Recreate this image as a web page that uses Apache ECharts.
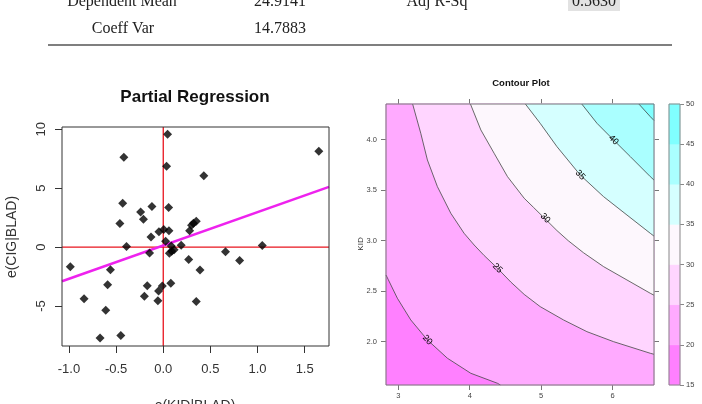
<!DOCTYPE html>
<html lang="en">
<head>
<meta charset="UTF-8" />
<title>Partial Regression / Contour Plot</title>
<script src="https://cdn.jsdelivr.net/npm/echarts@6/dist/echarts.min.js"></script>
<style>
  html, body { margin: 0; padding: 0; background: #fff; }
  #main { width: 702px; height: 404px; }
</style>
</head>
<body>
<div id="main"></div>
<script>
// partial regression residuals: e(KID|BLAD) and e(CIG|BLAD)
var residX = [0.046, 1.65, -0.418, 0.035, 0.43, -0.43, -0.12, 0.057, -0.24, -0.21, -0.46,
  0.35, 0.32, 0.30, 0.28, 0.005, -0.046, 0.06, -0.13, 0.025, -0.39, 0.19, 1.05,
  0.085, 0.115, 0.09, 0.065, -0.145, 0.66, 0.81, 0.27, -0.986, -0.56, 0.39,
  -0.59, -0.17, 0.08, -0.01, -0.05, -0.84, -0.20, 0.35, -0.057, -0.61, -0.67, -0.45];
var residY = [9.58, 8.14, 7.64, 6.86, 6.07, 3.73, 3.45, 3.36, 2.99, 2.37, 2.0,
  2.2, 2.03, 1.86, 1.38, 1.50, 1.30, 1.38, 0.86, 0.5, 0.06, 0.16, 0.14,
  0.1, -0.22, -0.35, -0.52, -0.5, -0.4, -1.13, -1.05, -1.67, -1.92, -1.95,
  -3.19, -3.28, -3.08, -3.31, -3.73, -4.38, -4.18, -4.63, -4.55, -5.37, -7.71, -7.51];
// least squares line, read at the two edges of the box
var fitX = [-1.074, 1.758];
var fitY = [-2.9, 5.12];
// red reference lines (abline v = 0, h = 0)
var refV = 0, refH = 0;
var prXTicks = [-1.0, -0.5, 0.0, 0.5, 1.0, 1.5];
var prYTicks = [-5, 0, 5, 10];

// contour lines of the fitted surface, points are [x, KID]
var contour20 = [[2.827, 2.66], [2.856, 2.618], [2.986, 2.43], [3.174, 2.215], [3.407, 2.017],
  [3.687, 1.836], [4.015, 1.687], [4.389, 1.588], [4.43, 1.571]];
var contour25 = [[3.20, 4.353], [3.314, 4.063], [3.407, 3.799], [3.547, 3.535], [3.735, 3.271],
  [3.921, 3.073], [4.062, 2.957], [4.202, 2.853], [4.389, 2.727], [4.576, 2.59], [4.763, 2.468],
  [4.987, 2.347], [5.314, 2.215], [5.642, 2.099], [6.015, 2.0], [6.53, 1.885], [6.582, 1.875]];
var contour30 = [[4.01, 4.353], [4.156, 4.096], [4.342, 3.865], [4.529, 3.634], [4.763, 3.42],
  [4.893, 3.33], [5.058, 3.215], [5.222, 3.10], [5.38, 3.0], [5.595, 2.88], [5.875, 2.743],
  [6.203, 2.611], [6.53, 2.479], [6.582, 2.46]];
var contour35 = [[4.78, 4.353], [4.987, 4.162], [5.222, 3.931], [5.548, 3.65], [5.875, 3.436],
  [6.203, 3.254], [6.53, 3.073], [6.582, 3.045]];
var contour40 = [[5.57, 4.353], [5.783, 4.162], [6.015, 3.997], [6.25, 3.832], [6.53, 3.634],
  [6.582, 3.60]];
var contour45 = [[6.37, 4.353], [6.53, 4.228], [6.582, 4.19]];
var contourLevels = [20, 25, 30, 35, 40, 45];
var labelLevels = [20, 25, 30, 35, 40];
var labelX = [3.407, 4.389, 5.058, 5.548, 6.015];
var labelY = [2.017, 2.727, 3.222, 3.65, 3.997];
var cpXTicks = [3, 4, 5, 6];
var cpYTicks = [2.0, 2.5, 3.0, 3.5, 4.0];
var colorBreaks = [15, 20, 25, 30, 35, 40, 45, 50];

var contours = { 20: contour20, 25: contour25, 30: contour30, 35: contour35, 40: contour40, 45: contour45 };
var bandColors = ['#ff80ff', '#ffaaff', '#ffd5ff', '#fdf7fd', '#d5ffff', '#aaffff', '#80ffff'];

// axis ranges of the two panels
var prX = [-1.074, 1.758], prY = [-8.4, 10.2];
var cpX = [2.827, 6.582], cpY = [1.571, 4.353];

var chart = echarts.init(document.getElementById('main'));

var sans = 'Liberation Sans, Arial, sans-serif';
var serif = 'Liberation Serif, Times New Roman, serif';

function scatterData() {
  return residX.map(function (x, i) { return [x, residY[i]]; });
}

function refLines(params, api) {
  var v1 = api.coord([refV, prY[0]]), v2 = api.coord([refV, prY[1]]);
  var h1 = api.coord([prX[0], refH]), h2 = api.coord([prX[1], refH]);
  var st = { stroke: '#e8141e', lineWidth: 1.3 };
  return {
    type: 'group',
    children: [
      { type: 'line', shape: { x1: v1[0], y1: v1[1], x2: v2[0], y2: v2[1] }, style: st },
      { type: 'line', shape: { x1: h1[0], y1: h1[1], x2: h2[0], y2: h2[1] }, style: st }
    ]
  };
}

function bandPolygon(params, api) {
  var level = api.value(0);
  var color = bandColors[colorBreaks.indexOf(level)];
  var pts;
  if (level === colorBreaks[0]) {
    pts = [[cpX[0], cpY[0]], [cpX[1], cpY[0]], [cpX[1], cpY[1]], [cpX[0], cpY[1]]];
  } else {
    var line = contours[level];
    pts = line.slice();
    var first = line[0], last = line[line.length - 1];
    if (last[1] <= cpY[0] + 1e-6) pts.push([cpX[1], cpY[0]]);
    pts.push([cpX[1], cpY[1]]);
    if (first[0] <= cpX[0] + 1e-6) pts.push([cpX[0], cpY[1]]);
  }
  return {
    type: 'polygon',
    shape: { points: pts.map(function (p) { return api.coord(p); }) },
    style: { fill: color, stroke: color, lineWidth: 0.5 }
  };
}

function contourLabel(params, api) {
  var level = labelLevels[params.dataIndex];
  var pos = [api.value(0), api.value(1)];
  var line = contours[level];
  var best = 0, bd = Infinity;
  line.forEach(function (p, i) {
    var d = (p[0] - pos[0]) * (p[0] - pos[0]) + (p[1] - pos[1]) * (p[1] - pos[1]);
    if (d < bd) { bd = d; best = i; }
  });
  var a = api.coord(line[Math.max(best - 1, 0)]);
  var b = api.coord(line[Math.min(best + 1, line.length - 1)]);
  var c = api.coord(pos);
  return {
    type: 'text',
    x: c[0], y: c[1],
    rotation: -Math.atan2(b[1] - a[1], b[0] - a[0]),
    style: { text: String(level), fontSize: 9, fontFamily: sans, fill: '#000', align: 'center', verticalAlign: 'middle' }
  };
}

function colorRect(params, api) {
  var i = params.dataIndex;
  var p1 = api.coord([0, colorBreaks[i + 1]]);
  var p2 = api.coord([1, colorBreaks[i]]);
  return {
    type: 'rect',
    shape: { x: p1[0], y: p1[1], width: p2[0] - p1[0], height: p2[1] - p1[1] },
    style: { fill: bandColors[i], stroke: bandColors[i], lineWidth: 0.5 }
  };
}

var cpTickLabel = { fontSize: 7.5, color: '#444', fontFamily: sans };
var noLine = { show: false, onZero: false };

var option = {
  animation: false,
  backgroundColor: '#fff',
  grid: [
    { left: 62, top: 127, width: 267, height: 219, show: true, z: 10, borderColor: '#333', borderWidth: 1, backgroundColor: 'transparent' },
    { left: 386, top: 104, width: 268, height: 281, show: true, z: 10, borderColor: '#777', borderWidth: 1, backgroundColor: 'transparent' },
    { left: 669, top: 104, width: 11, height: 281, show: true, z: 10, borderColor: '#888', borderWidth: 1, backgroundColor: 'transparent' }
  ],
  xAxis: [
    {
      type: 'value', gridIndex: 0, min: prX[0], max: prX[1], position: 'bottom',
      axisLine: noLine, splitLine: { show: false },
      axisTick: { show: true, inside: false, length: 7, lineStyle: { color: '#333' }, customValues: prXTicks },
      axisLabel: { customValues: prXTicks, fontSize: 13, color: '#333', fontFamily: sans, margin: 17,
        formatter: function (v) { return v.toFixed(1); } }
    },
    {
      type: 'value', gridIndex: 1, min: cpX[0], max: cpX[1], position: 'bottom',
      axisLine: noLine, splitLine: { show: false },
      axisTick: { show: true, length: 5, lineStyle: { color: '#777' }, customValues: cpXTicks },
      axisLabel: Object.assign({ customValues: cpXTicks, margin: 7 }, cpTickLabel)
    },
    {
      type: 'value', gridIndex: 1, min: cpX[0], max: cpX[1], position: 'top',
      axisLine: noLine, splitLine: { show: false },
      axisTick: { show: true, length: 5, lineStyle: { color: '#777' }, customValues: cpXTicks },
      axisLabel: { show: false }
    },
    {
      type: 'value', gridIndex: 2, min: 0, max: 1, show: false
    }
  ],
  yAxis: [
    {
      type: 'value', gridIndex: 0, min: prY[0], max: prY[1], position: 'left',
      axisLine: noLine, splitLine: { show: false },
      axisTick: { show: true, length: 7, lineStyle: { color: '#333' }, customValues: prYTicks },
      axisLabel: { customValues: prYTicks, rotate: 90, fontSize: 13, color: '#333', fontFamily: sans, margin: 14 }
    },
    {
      type: 'value', gridIndex: 1, min: cpY[0], max: cpY[1], position: 'left',
      axisLine: noLine, splitLine: { show: false },
      axisTick: { show: true, length: 5, lineStyle: { color: '#777' }, customValues: cpYTicks },
      axisLabel: Object.assign({ customValues: cpYTicks, margin: 9,
        formatter: function (v) { return v.toFixed(1); } }, cpTickLabel)
    },
    {
      type: 'value', gridIndex: 1, min: cpY[0], max: cpY[1], position: 'right',
      axisLine: noLine, splitLine: { show: false },
      axisTick: { show: true, length: 5, lineStyle: { color: '#777' }, customValues: cpYTicks },
      axisLabel: { show: false }
    },
    {
      type: 'value', gridIndex: 2, min: 15, max: 50, interval: 5, position: 'right',
      axisLine: noLine, splitLine: { show: false },
      axisTick: { show: true, length: 4, lineStyle: { color: '#888' } },
      axisLabel: Object.assign({ margin: 6 }, cpTickLabel)
    }
  ],
  series: [
    {
      type: 'custom', xAxisIndex: 0, yAxisIndex: 0, z: 2, silent: true,
      renderItem: refLines,
      data: [[refV, refH]]
    },
    {
      type: 'line', xAxisIndex: 0, yAxisIndex: 0, z: 3,
      symbol: 'none',
      lineStyle: { color: '#ee22ee', width: 2.5 },
      data: fitX.map(function (x, i) { return [x, fitY[i]]; })
    },
    {
      type: 'scatter', xAxisIndex: 0, yAxisIndex: 0, z: 6,
      symbol: 'diamond', symbolSize: 9,
      itemStyle: { color: '#000' },
      data: scatterData()
    },
    {
      type: 'custom', xAxisIndex: 1, yAxisIndex: 1, z: 1, clip: false,
      renderItem: bandPolygon,
      data: colorBreaks.slice(0, -1).map(function (v) { return [v]; })
    }
  ].concat(contourLevels.map(function (lv) {
    return {
      type: 'line', xAxisIndex: 1, yAxisIndex: 1, z: 3,
      symbol: 'none', silent: true,
      lineStyle: { color: '#444', width: 0.8 },
      data: contours[lv]
    };
  })).concat([
    {
      type: 'custom', xAxisIndex: 1, yAxisIndex: 1, z: 4,
      renderItem: contourLabel,
      data: labelX.map(function (x, i) { return [x, labelY[i]]; })
    },
    {
      type: 'custom', xAxisIndex: 3, yAxisIndex: 3, z: 1,
      renderItem: colorRect,
      data: colorBreaks.slice(0, -1).map(function (v) { return [0, v]; })
    }
  ]),
  graphic: [
    // table fragment above the plots
    { type: 'rect', shape: { x: 568, y: 0, width: 52, height: 11 }, style: { fill: '#e2e2e2' } },
    { type: 'text', x: 122, y: 2, style: { text: 'Dependent Mean', font: '16px ' + serif, fill: '#222', align: 'center', verticalAlign: 'middle' } },
    { type: 'text', x: 280, y: 2, style: { text: '24.9141', font: '16px ' + serif, fill: '#222', align: 'center', verticalAlign: 'middle' } },
    { type: 'text', x: 437, y: 2, style: { text: 'Adj R-Sq', font: '16px ' + serif, fill: '#222', align: 'center', verticalAlign: 'middle' } },
    { type: 'text', x: 594, y: 2, style: { text: '0.5630', font: '16px ' + serif, fill: '#222', align: 'center', verticalAlign: 'middle' } },
    { type: 'text', x: 123, y: 29, style: { text: 'Coeff Var', font: '16px ' + serif, fill: '#222', align: 'center', verticalAlign: 'middle' } },
    { type: 'text', x: 280, y: 29, style: { text: '14.7883', font: '16px ' + serif, fill: '#222', align: 'center', verticalAlign: 'middle' } },
    { type: 'line', shape: { x1: 48, y1: 45, x2: 672, y2: 45 }, style: { stroke: '#555', lineWidth: 1.5 } },
    // partial regression titles
    { type: 'text', x: 195, y: 97, style: { text: 'Partial Regression', font: 'bold 17px ' + sans, fill: '#111', align: 'center', verticalAlign: 'middle' } },
    { type: 'text', x: 12, y: 237, rotation: Math.PI / 2, style: { text: 'e(CIG|BLAD)', font: '14px ' + sans, fill: '#333', align: 'center', verticalAlign: 'middle' } },
    { type: 'text', x: 195, y: 399, style: { text: 'e(KID|BLAD)', font: '14px ' + sans, fill: '#333', align: 'center', verticalAlign: 'top' } },
    // contour plot titles
    { type: 'text', x: 521, y: 83, style: { text: 'Contour Plot', font: 'bold 9.5px ' + sans, fill: '#111', align: 'center', verticalAlign: 'middle' } },
    { type: 'text', x: 361, y: 244, rotation: Math.PI / 2, style: { text: 'KID', font: '8px ' + sans, fill: '#333', align: 'center', verticalAlign: 'middle' } }
  ]
};

chart.setOption(option);
</script>
</body>
</html>
